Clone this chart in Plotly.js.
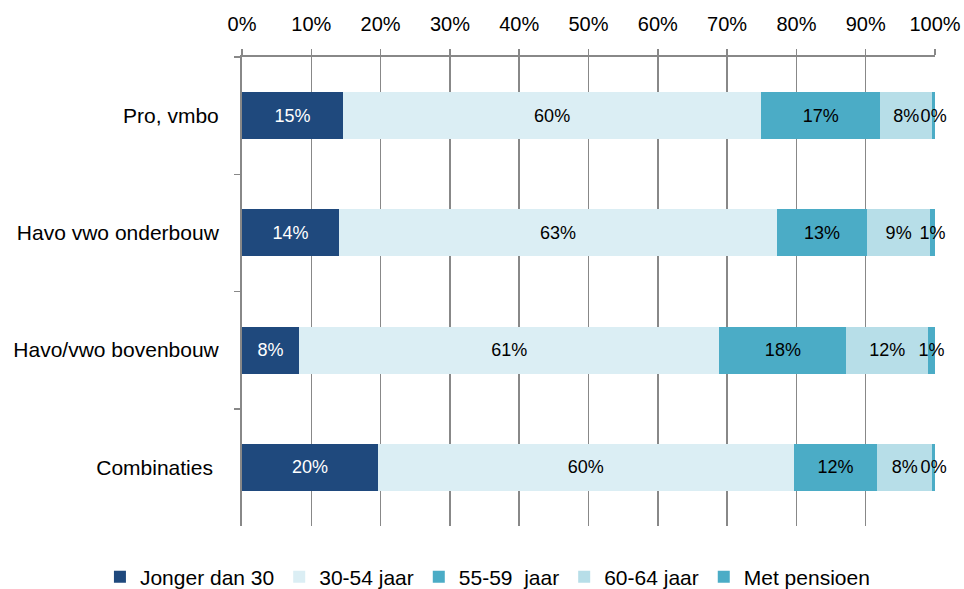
<!DOCTYPE html>
<html>
<head>
<meta charset="utf-8">
<script src="https://cdn.plot.ly/plotly-3.0.1.min.js"></script>
<style>html,body{margin:0;padding:0;background:#fff;}#chart{width:964px;height:589px;}</style>
</head>
<body>
<div id="chart"></div>
<script>
const categories = ["Pro, vmbo", "Havo vwo onderbouw", "Havo/vwo bovenbouw", "Combinaties\u00a0"];
const seriesNames = ["Jonger dan 30", "30-54 jaar", "55-59  jaar", "60-64 jaar", "Met pensioen"];
const jonger = [14.6, 14.0, 8.2, 19.6];
const midden = [60.3, 63.2, 60.7, 60.0];
const jaar5559 = [17.2, 13.0, 18.3, 12.1];
const jaar6064 = [7.5, 9.1, 11.8, 7.9];
const pensioen = [0.4, 0.7, 1.0, 0.4];
const colors = ["#1F497D", "#DBEEF4", "#4BACC6", "#B7DEE8", "#4BACC6"];
const textColors = ["#ffffff", "#000000", "#000000", "#000000", "#000000"];

const allSeries = [jonger, midden, jaar5559, jaar6064, pensioen];
const FONT = "Liberation Sans, Arial, sans-serif";

const traces = allSeries.map((vals, i) => ({
  type: "bar",
  orientation: "h",
  name: seriesNames[i],
  y: categories,
  x: vals,
  marker: { color: colors[i], line: { width: 0 } },
  texttemplate: "%{x:.0f}%",
  textposition: "inside",
  insidetextanchor: "middle",
  textangle: 0,
  constraintext: "none",
  cliponaxis: false,
  textfont: { family: FONT, size: 18, color: textColors[i] },
  hoverinfo: "none"
}));

const layout = {
  width: 964,
  height: 589,
  margin: { l: 242, r: 29, t: 57, b: 63, autoexpand: false },
  barmode: "stack",
  bargap: 0.6,
  paper_bgcolor: "#ffffff",
  plot_bgcolor: "#ffffff",
  font: { family: FONT, size: 20, color: "#000000" },
  uniformtext: { mode: "show", minsize: 18 },
  xaxis: {
    side: "top",
    range: [0, 100],
    dtick: 10,
    ticksuffix: "%",
    showgrid: true,
    gridcolor: "#888888",
    gridwidth: 1.5,
    showline: true,
    linecolor: "#888888",
    linewidth: 2,
    ticks: "outside",
    ticklen: 6,
    tickwidth: 1.5,
    tickcolor: "#888888",
    ticklabelstandoff: 10,
    zeroline: false,
    tickfont: { family: FONT, size: 20, color: "#000000" },
    fixedrange: true
  },
  yaxis: {
    autorange: "reversed",
    type: "category",
    showline: true,
    linecolor: "#888888",
    linewidth: 2,
    ticks: "outside",
    tickson: "boundaries",
    ticklen: 6,
    tickwidth: 1.5,
    tickcolor: "#888888",
    ticklabelstandoff: 17,
    showgrid: false,
    tickfont: { family: FONT, size: 21, color: "#000000" },
    fixedrange: true
  },
  showlegend: true,
  legend: {
    orientation: "h",
    x: -0.205,
    xanchor: "left",
    y: -0.109,
    yanchor: "middle",
    font: { family: FONT, size: 21, color: "#000000" },
    traceorder: "normal",
    itemwidth: 30
  }
};

Plotly.newPlot("chart", traces, layout, { displayModeBar: false, staticPlot: true });
</script>
</body>
</html>
